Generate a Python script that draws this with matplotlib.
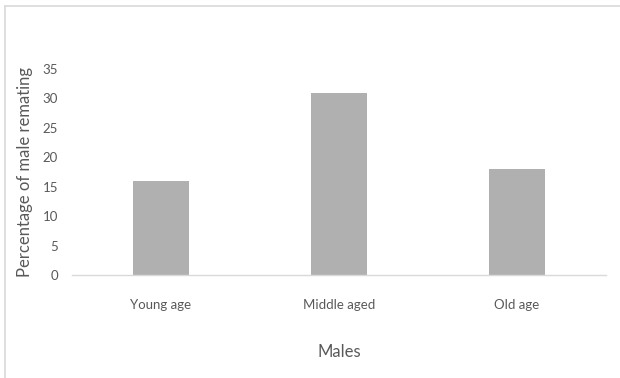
import matplotlib
matplotlib.use('Agg')
import matplotlib.pyplot as plt
from matplotlib.lines import Line2D

# 数据
categories = ['Young age', 'Middle aged', 'Old age']
values = [16, 31, 18]
yticks = [0, 5, 10, 15, 20, 25, 30, 35]

text_color = '#595959'
plt.rcParams['font.family'] = ['Lato', 'DejaVu Sans']

fig = plt.figure(figsize=(6.2, 3.78), dpi=100)
ax = fig.add_axes([72 / 620, 103 / 378, 534 / 620, 206 / 378])

ax.bar(range(len(categories)), values, width=0.315, color='#b0b0b0')
ax.set_xlim(-0.5, len(categories) - 0.5)
ax.set_ylim(0, 35)
ax.set_yticks(yticks)
ax.set_xticks(range(len(categories)))
ax.set_xticklabels(categories)

for s in ['top', 'right', 'left']:
    ax.spines[s].set_visible(False)
ax.spines['bottom'].set_color('#d9d9d9')
ax.spines['bottom'].set_linewidth(1)
ax.tick_params(axis='both', length=0, labelsize=9.5, colors=text_color)
ax.tick_params(axis='y', pad=10)
ax.tick_params(axis='x', pad=17)

ax.set_ylabel('Percentage of male remating', fontsize=12, color=text_color, labelpad=7)
ax.set_xlabel('Males', fontsize=12, color=text_color, labelpad=24)

# 图表边框（左、上）
fig.add_artist(Line2D([4.5 / 620, 4.5 / 620], [0, 1 - 6 / 378], color='#d9d9d9', lw=1.2))
fig.add_artist(Line2D([4.5 / 620, 1], [1 - 6 / 378, 1 - 6 / 378], color='#d9d9d9', lw=1.2))

fig.savefig('out.png', dpi=100)
